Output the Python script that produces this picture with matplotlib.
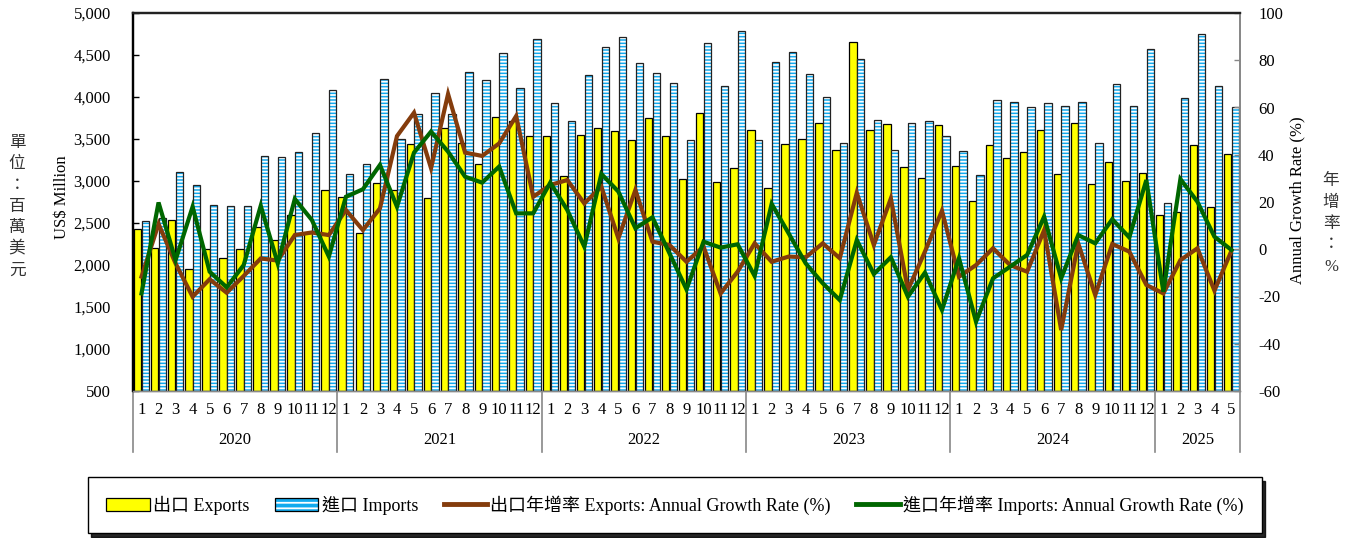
import matplotlib
matplotlib.use("Agg")
import matplotlib.pyplot as plt
from matplotlib.patches import Patch
from matplotlib.lines import Line2D
from matplotlib.legend_handler import HandlerTuple
import matplotlib.transforms as mtransforms

plt.rcParams['font.family'] = ['Liberation Serif', 'Noto Sans CJK TC']
plt.rcParams['hatch.linewidth'] = 1.3

years = ['2020', '2021', '2022', '2023', '2024', '2025']
months_per_year = [12, 12, 12, 12, 12, 5]

exports = [2425, 2198, 2532, 1948, 2190, 2079, 2194, 2448, 2298, 2595, 2380, 2889,
           2804, 2377, 2976, 2893, 3437, 2794, 3635, 3448, 3199, 3758, 3720, 3536,
           3532, 3063, 3548, 3635, 3599, 3488, 3754, 3532, 3028, 3806, 2992, 3159,
           3607, 2913, 3437, 3500, 3687, 3365, 4651, 3607, 3675, 3163, 3040, 3663,
           3179, 2762, 3425, 3270, 3342, 3607, 3083, 3694, 2964, 3230, 3004, 3091,
           2595, 2627, 3425, 2694, 3325]

imports = [2528, 2556, 3111, 2956, 2710, 2706, 2698, 3302, 3282, 3345, 3571, 4080,
           3080, 3199, 4211, 3496, 3798, 4052, 3798, 4298, 4202, 4520, 4107, 4690,
           3933, 3718, 4258, 4599, 4714, 4401, 4290, 4163, 3488, 4647, 4127, 4786,
           3488, 4421, 4540, 4274, 3996, 3456, 4452, 3726, 3365, 3694, 3710, 3540,
           3357, 3075, 3964, 3937, 3885, 3933, 3897, 3944, 3448, 4151, 3893, 4568,
           2734, 3984, 4750, 4135, 3885]

export_growth = [-11.6, 10.7, -6.0, -20.1, -12.7, -18.4, -11.3, -3.9, -4.8, 6.0, 7.1, 6.0,
                 16.6, 8.1, 17.3, 47.9, 57.8, 34.3, 65.7, 40.9, 39.5, 44.8, 56.4, 22.2,
                 27.2, 29.3, 19.4, 26.5, 4.6, 25.1, 3.2, 1.8, -5.3, 1.1, -18.7, -9.5,
                 2.5, -5.3, -3.1, -3.4, 2.5, -3.8, 23.9, 1.8, 21.5, -17.2, -1.0, 16.3,
                 -11.6, -6.7, 0.4, -6.7, -9.5, 8.1, -34.2, 2.5, -19.4, 2.2, -1.0, -15.1,
                 -18.7, -4.6, 0.4, -17.5, -0.6]

import_growth = [-18.7, 19.8, -4.6, 18.0, -9.5, -16.1, -6.7, 18.4, -6.0, 21.3, 12.4, -3.1,
                 22.2, 25.4, 35.7, 18.0, 40.9, 49.8, 41.3, 30.7, 28.2, 35.0, 15.2, 15.2,
                 28.2, 16.6, 1.1, 31.9, 24.4, 8.9, 13.5, -1.7, -17.0, 3.2, 0.7, 2.1,
                 -11.3, 19.2, 6.7, -6.0, -14.4, -21.5, 3.9, -10.5, -3.4, -20.1, -9.9, -25.7,
                 -3.8, -30.7, -12.3, -7.4, -2.4, 13.8, -12.3, 6.0, 2.5, 12.7, 5.0, 29.3,
                 -18.0, 29.7, 20.1, 5.3, -0.3]

month_labels = []
for n in months_per_year:
    month_labels += [str(m) for m in range(1, n + 1)]

left_ticks = [500, 1000, 1500, 2000, 2500, 3000, 3500, 4000, 4500, 5000]
right_ticks = [-60, -40, -20, 0, 20, 40, 60, 80, 100]

YELLOW = '#FFFF00'
BLUE = '#12AAEE'
BROWN = '#843C0C'
GREEN = '#006600'

W, H = 1349, 538
fig = plt.figure(figsize=(W / 100, H / 100), dpi=100)
ax = fig.add_axes([133 / W, 1 - 391 / H, 1107 / W, 378 / H])
ax2 = ax.twinx()

x = list(range(len(exports)))
bw = 0.43
xe = [i - 0.22 for i in x]
xi = [i + 0.23 for i in x]

ax.bar(xe, [v - 500 for v in exports], bottom=500, width=bw, color=YELLOW,
       edgecolor='black', linewidth=0.9, zorder=2)
ax.bar(xi, [v - 500 for v in imports], bottom=500, width=bw, color=BLUE,
       edgecolor='white', linewidth=0, hatch='-----', zorder=2)
ax.bar(xi, [v - 500 for v in imports], bottom=500, width=bw, fill=False,
       edgecolor='#222222', linewidth=0.9, zorder=3)

ax2.plot(x, export_growth, color=BROWN, linewidth=3.0, solid_joinstyle='miter', zorder=4)
ax2.plot(x, import_growth, color=GREEN, linewidth=3.0, solid_joinstyle='miter', zorder=5)

ax.set_xlim(-0.5, len(exports) - 0.5)
ax.set_ylim(500, 5000)
ax2.set_ylim(-60, 100)
ax.set_yticks(left_ticks)
ax.set_yticklabels([f"{v:,}" for v in left_ticks], fontsize=12)
ax2.set_yticks(right_ticks)
ax2.set_yticklabels([str(v) for v in right_ticks], fontsize=12)
ax.tick_params(axis='y', direction='in', length=4, width=1, color='black', pad=16)
ax2.tick_params(axis='y', direction='in', length=4, width=1, color='#888888', pad=13)
ax.set_xticks([])

for a in (ax, ax2):
    a.spines['left'].set_color('black')
    a.spines['left'].set_linewidth(1.6)
    a.spines['top'].set_color('#222222')
    a.spines['top'].set_linewidth(1.6)
    a.spines['right'].set_color('#888888')
    a.spines['right'].set_linewidth(1.3)
    a.spines['bottom'].set_color('#888888')
    a.spines['bottom'].set_linewidth(1.0)

trans = mtransforms.blended_transform_factory(ax.transData, ax.transAxes)
for i, lab in enumerate(month_labels):
    ax.text(i, -0.05, lab, transform=trans, ha='center', va='center', fontsize=12)

start = 0
bounds = [-0.5]
for yr, n in zip(years, months_per_year):
    ax.text(start + (n - 1) / 2, -0.13, yr, transform=trans, ha='center', va='center', fontsize=12)
    start += n
    bounds.append(start - 0.5)
for b in bounds:
    ax.add_line(Line2D([b, b], [0, -0.162], transform=trans, color='#888888',
                       linewidth=1.2, clip_on=False))

fig.text(62 / W, 1 - 197 / H, 'US$ Million', rotation=90, ha='center', va='center', fontsize=12)
fig.text(1297 / W, 1 - 200 / H, 'Annual Growth Rate (%)', rotation=90, ha='center', va='center', fontsize=12)
fig.text(17 / W, 1 - 207 / H, '\n'.join('單位：百萬美元'), ha='center', va='center',
         fontsize=12, linespacing=1.45, color='#333333')
fig.text(1331 / W, 1 - 224 / H, '\n'.join('年增率：%'), ha='center', va='center',
         fontsize=12, linespacing=1.45, color='#333333')

h_exp = Patch(facecolor=YELLOW, edgecolor='black', linewidth=0.9)
h_imp = (Patch(facecolor=BLUE, edgecolor='white', linewidth=0, hatch='---'),
         Patch(fill=False, edgecolor='black', linewidth=0.9))
h_eg = Line2D([], [], color=BROWN, linewidth=3.5)
h_ig = Line2D([], [], color=GREEN, linewidth=3.5)
leg = fig.legend([h_exp, h_imp, h_eg, h_ig],
                 ['出口 Exports', '進口 Imports', '出口年增率 Exports: Annual Growth Rate (%)',
                  '進口年增率 Imports: Annual Growth Rate (%)'],
                 handler_map={tuple: HandlerTuple(ndivide=1)},
                 loc='center', bbox_to_anchor=(675 / W, 1 - 505 / H), ncol=4,
                 fontsize=13, frameon=True, fancybox=False,
                 shadow={'color': 'black', 'alpha': 0.85, 'ox': 2, 'oy': -3},
                 edgecolor='black', handlelength=2.4, handletextpad=0.2,
                 columnspacing=1.4, borderpad=1.0)
leg.get_frame().set_linewidth(1.0)

fig.savefig('out.png', dpi=100)
